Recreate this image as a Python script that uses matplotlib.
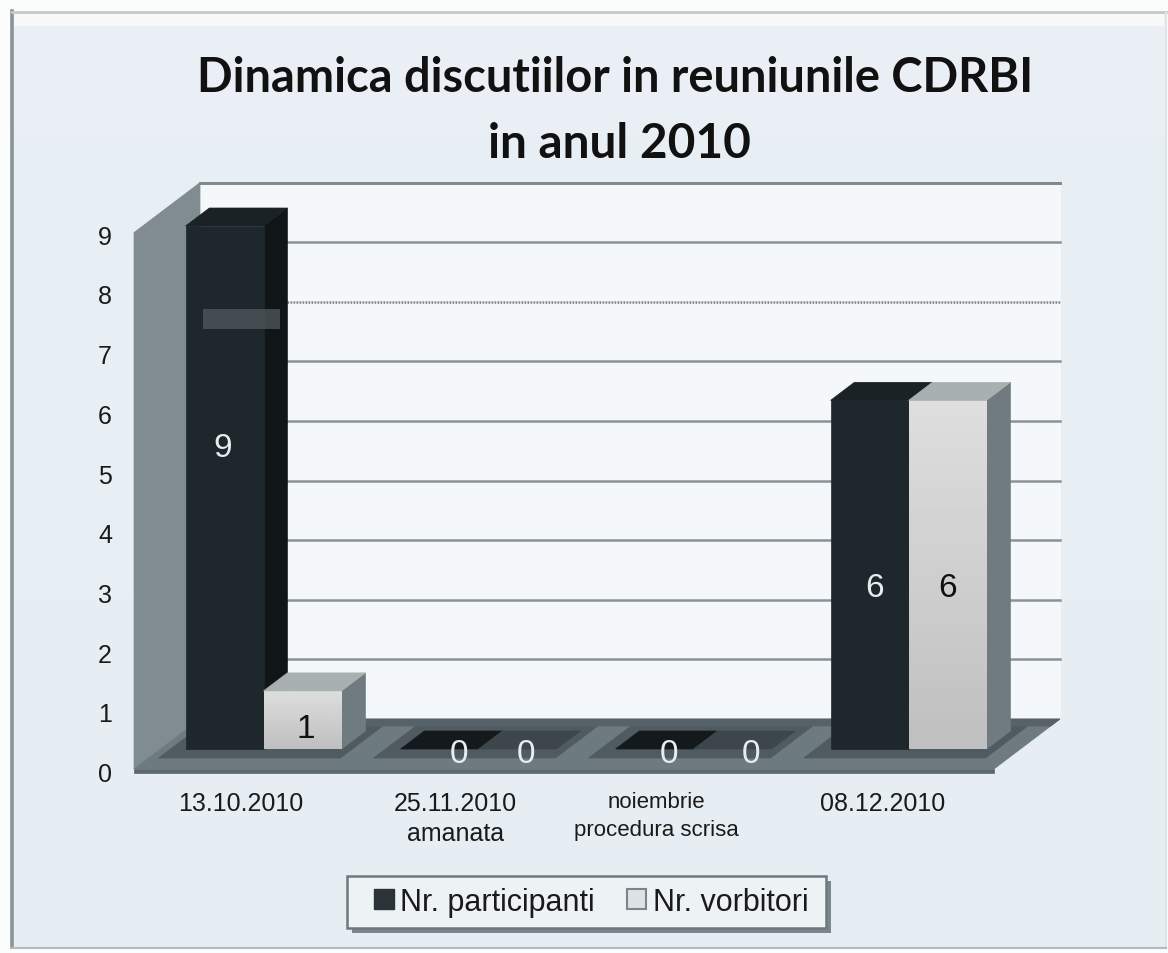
import numpy as np
import matplotlib
matplotlib.use('Agg')
import matplotlib.pyplot as plt
from matplotlib.patches import Polygon, Rectangle, Patch

categories = ['13.10.2010', '25.11.2010\namanata', 'noiembrie\nprocedura scrisa', '08.12.2010']
participanti = [9, 0, 0, 6]
vorbitori = [1, 0, 0, 6]
series_names = ['Nr. participanti', 'Nr. vorbitori']
y_ticks = list(range(10))

W, H = 1168, 954
X0, Y0 = 134, 770      # front left corner of the floor, pixels
CAT_PX, UNIT_PX = 215, 59.6
DX, DY = 66 / CAT_PX, 50 / UNIT_PX   # depth vector in data units
BAR_W = 78 / CAT_PX
BAR_SCALE = 0.975
D0, D1 = 0.4, 0.76
GROUP_SHIFT = -0.02

fig = plt.figure(figsize=(W / 100, H / 100), dpi=100, facecolor='#fbfcfc')

# background layer, in pixels
bg = fig.add_axes([0, 0, 1, 1], zorder=0)
bg.axis('off')
c_top = np.array([0.915, 0.94, 0.96])
c_bot = np.array([0.905, 0.935, 0.955])
t = np.linspace(0, 1, 200).reshape(-1, 1, 1)
bg.imshow(c_top + (c_bot - c_top) * t, extent=(12, 1165, 948, 14), aspect='auto')
bg.set_xlim(0, W)
bg.set_ylim(H, 0)
bg.add_patch(Rectangle((14, 15), 1150, 12, color='#f6f8fa', lw=0))
bg.plot([12, 12], [12, 948], color='#8a9398', lw=2.6)
bg.plot([12, 1166], [13, 13], color='#c3c9cc', lw=2)
bg.plot([1166, 1166], [14, 948], color='#dfe4e7', lw=1.5)
bg.plot([12, 1166], [949, 949], color='#b4bbbf', lw=1.5)

bg.text(615, 78, 'Dinamica discutiilor in reuniunile CDRBI', fontsize=33.8, fontweight='bold',
        family='Lato', color='#111111', ha='center', va='center')
bg.text(619, 144, 'in anul 2010', fontsize=34.4, fontweight='bold',
        family='Lato', color='#111111', ha='center', va='center')

# legend box with its shadow
bg.add_patch(Rectangle((352, 882), 479, 52, facecolor='#7c878c', lw=0))
bg.add_patch(Rectangle((347, 877), 479, 52, facecolor='#edf2f5', edgecolor='#6f787c', lw=1.8))

# chart layer: x in categories, y in values
ax = fig.add_axes([0, 0, 1, 1], zorder=1)
ax.patch.set_alpha(0)
ax.axis('off')
ax.set_xlim(-X0 / CAT_PX, (W - X0) / CAT_PX)
ax.set_ylim(-(H - Y0) / UNIT_PX, Y0 / UNIT_PX)

n = len(categories)
top = max(y_ticks)


def proj(x, v, d):
    return (x + d * DX, v + d * DY)


def add_poly(pts, color, z):
    ax.add_patch(Polygon(pts, closed=True, facecolor=color, edgecolor=color, lw=0.5, zorder=z))


# walls and floor
add_poly([proj(0, 0, 1), proj(n, 0, 1), proj(n, top, 1), proj(0, top, 1)], '#f5f8fa', 1)
add_poly([proj(0, 0, 0), proj(0, 0, 1), proj(0, top, 1), proj(0, top, 0)], '#808c90', 2)
add_poly([proj(0, 0, 0), proj(n, 0, 0), proj(n, 0, 1), proj(0, 0, 1)], '#6d7a7f', 2)
add_poly([proj(0, -0.06, 0), proj(n, -0.06, 0), proj(n, 0, 0), proj(0, 0, 0)], '#5c686d', 2)
add_poly([proj(0.02, 0, 0.86), proj(n, 0, 0.86), proj(n, 0, 1), proj(0, 0, 1)], '#566267', 2)

# gridlines; the one at 7 is broken up in the scan
for v in y_ticks[1:]:
    if v == 7:
        ax.plot(*zip(proj(0, v, 1), proj(n, v, 1)), color='#7d8589', lw=1.8, ls=(0, (0.7, 0.5)), zorder=3)
    else:
        ax.plot(*zip(proj(0, v, 1), proj(n, v, 1)), color='#8b9397', lw=1.8, zorder=3)
ax.plot(*zip(proj(0, top, 1), proj(n, top, 1)), color='#7f878b', lw=2, zorder=3)


def bar3d(x, v, front, side, topc, z, gradient=None):
    h = v * BAR_SCALE
    if v > 0:
        add_poly([proj(x + BAR_W, 0, D0), proj(x + BAR_W, 0, D1), proj(x + BAR_W, h, D1), proj(x + BAR_W, h, D0)], side, z)
        if gradient:
            x0, y0 = proj(x, 0, D0)
            x1, y1 = proj(x + BAR_W, h, D0)
            ax.imshow(np.linspace(gradient[0], gradient[1], 64).reshape(-1, 1), cmap='gray', vmin=0, vmax=1,
                      extent=(x0, x1, y0, y1), aspect='auto', zorder=z)
        else:
            add_poly([proj(x, 0, D0), proj(x + BAR_W, 0, D0), proj(x + BAR_W, h, D0), proj(x, h, D0)], front, z)
    add_poly([proj(x, h, D0), proj(x + BAR_W, h, D0), proj(x + BAR_W, h, D1), proj(x, h, D1)], topc, z)


z = 5
for i in range(n):
    cx = i + 0.5 + GROUP_SHIFT
    add_poly([proj(cx - BAR_W - 0.07, 0, 0.22), proj(cx + BAR_W + 0.05, 0, 0.22),
              proj(cx + BAR_W + 0.05, 0, 0.85), proj(cx - BAR_W - 0.07, 0, 0.85)], '#4f5b60', 4)
    if participanti[i] > 0:
        bar3d(cx - BAR_W, participanti[i], '#1e272c', '#101518', '#1a2226', z)
    else:
        bar3d(cx - BAR_W, 0, '#1e272c', '#101518', '#14191c', z)
    z += 1
    if vorbitori[i] > 0:
        bar3d(cx, vorbitori[i], '#d5dbdf', '#6f7b80', '#a9b0b2', z, gradient=(0.87, 0.75))
    else:
        bar3d(cx, 0, '#d5dbdf', '#6f7b80', '#3d474b', z)
    z += 1

# paler band on the first bar, from the scan
ax.add_patch(Rectangle((0.32, 7.38), 0.36, 0.34, facecolor='#4d565b', alpha=0.8, lw=0, zorder=z))

# value labels, nudged (px) as in the reference
nudge_p = [(-2, 40), (19, -5), (14, -5), (5, -13)]
nudge_v = [(3, -9), (8, -5), (18, -5), (0, -13)]
for i in range(n):
    cx = i + 0.5 + GROUP_SHIFT
    for x, v, nd, col in [(cx - BAR_W / 2, participanti[i], nudge_p[i], '#e8ecee'),
                          (cx + BAR_W / 2, vorbitori[i], nudge_v[i], '#111111' if vorbitori[i] else '#e8ecee')]:
        px, py = proj(x, v * BAR_SCALE / 2, D0)
        ax.text(px + nd[0] / CAT_PX, py + nd[1] / UNIT_PX, str(v), fontsize=24, family='Liberation Sans',
                color=col, ha='center', va='center', zorder=z + 1)

# axis labels
for v in y_ticks:
    ax.text(-29 / CAT_PX, v + (-5 + 0.1 * v) / UNIT_PX, str(v), fontsize=18, family='Liberation Sans',
            color='#1a1a1a', ha='center', va='center', zorder=z + 1)
label_shift = [-1, -1, -15, -4]
label_size = [18, 18, 16, 18]
for i, lab in enumerate(categories):
    ax.text(i + 0.5 + label_shift[i] / CAT_PX, -22 / UNIT_PX, lab, fontsize=label_size[i], family='Liberation Sans',
            color='#1a1a1a', ha='center', va='top', linespacing=1.3 * 18 / label_size[i], zorder=z + 1)

handles = [Patch(facecolor='#2a3338', edgecolor='#2a3338'), Patch(facecolor='#dde2e5', edgecolor='#7c8589', lw=1.5)]
leg = ax.legend(handles, series_names, ncol=2, loc='center', bbox_to_anchor=(591 / W, 1 - 903 / H),
                bbox_transform=fig.transFigure, frameon=False,
                prop={'family': 'Liberation Sans', 'size': 22}, handlelength=0.65, handleheight=0.65,
                handletextpad=0.2, columnspacing=1.05, borderpad=0, labelcolor='#1a1a1a')
leg.set_zorder(z + 2)

ax.set_xlim(-X0 / CAT_PX, (W - X0) / CAT_PX)
ax.set_ylim(-(H - Y0) / UNIT_PX, Y0 / UNIT_PX)
fig.savefig('out.png', dpi=100, facecolor=fig.get_facecolor())
